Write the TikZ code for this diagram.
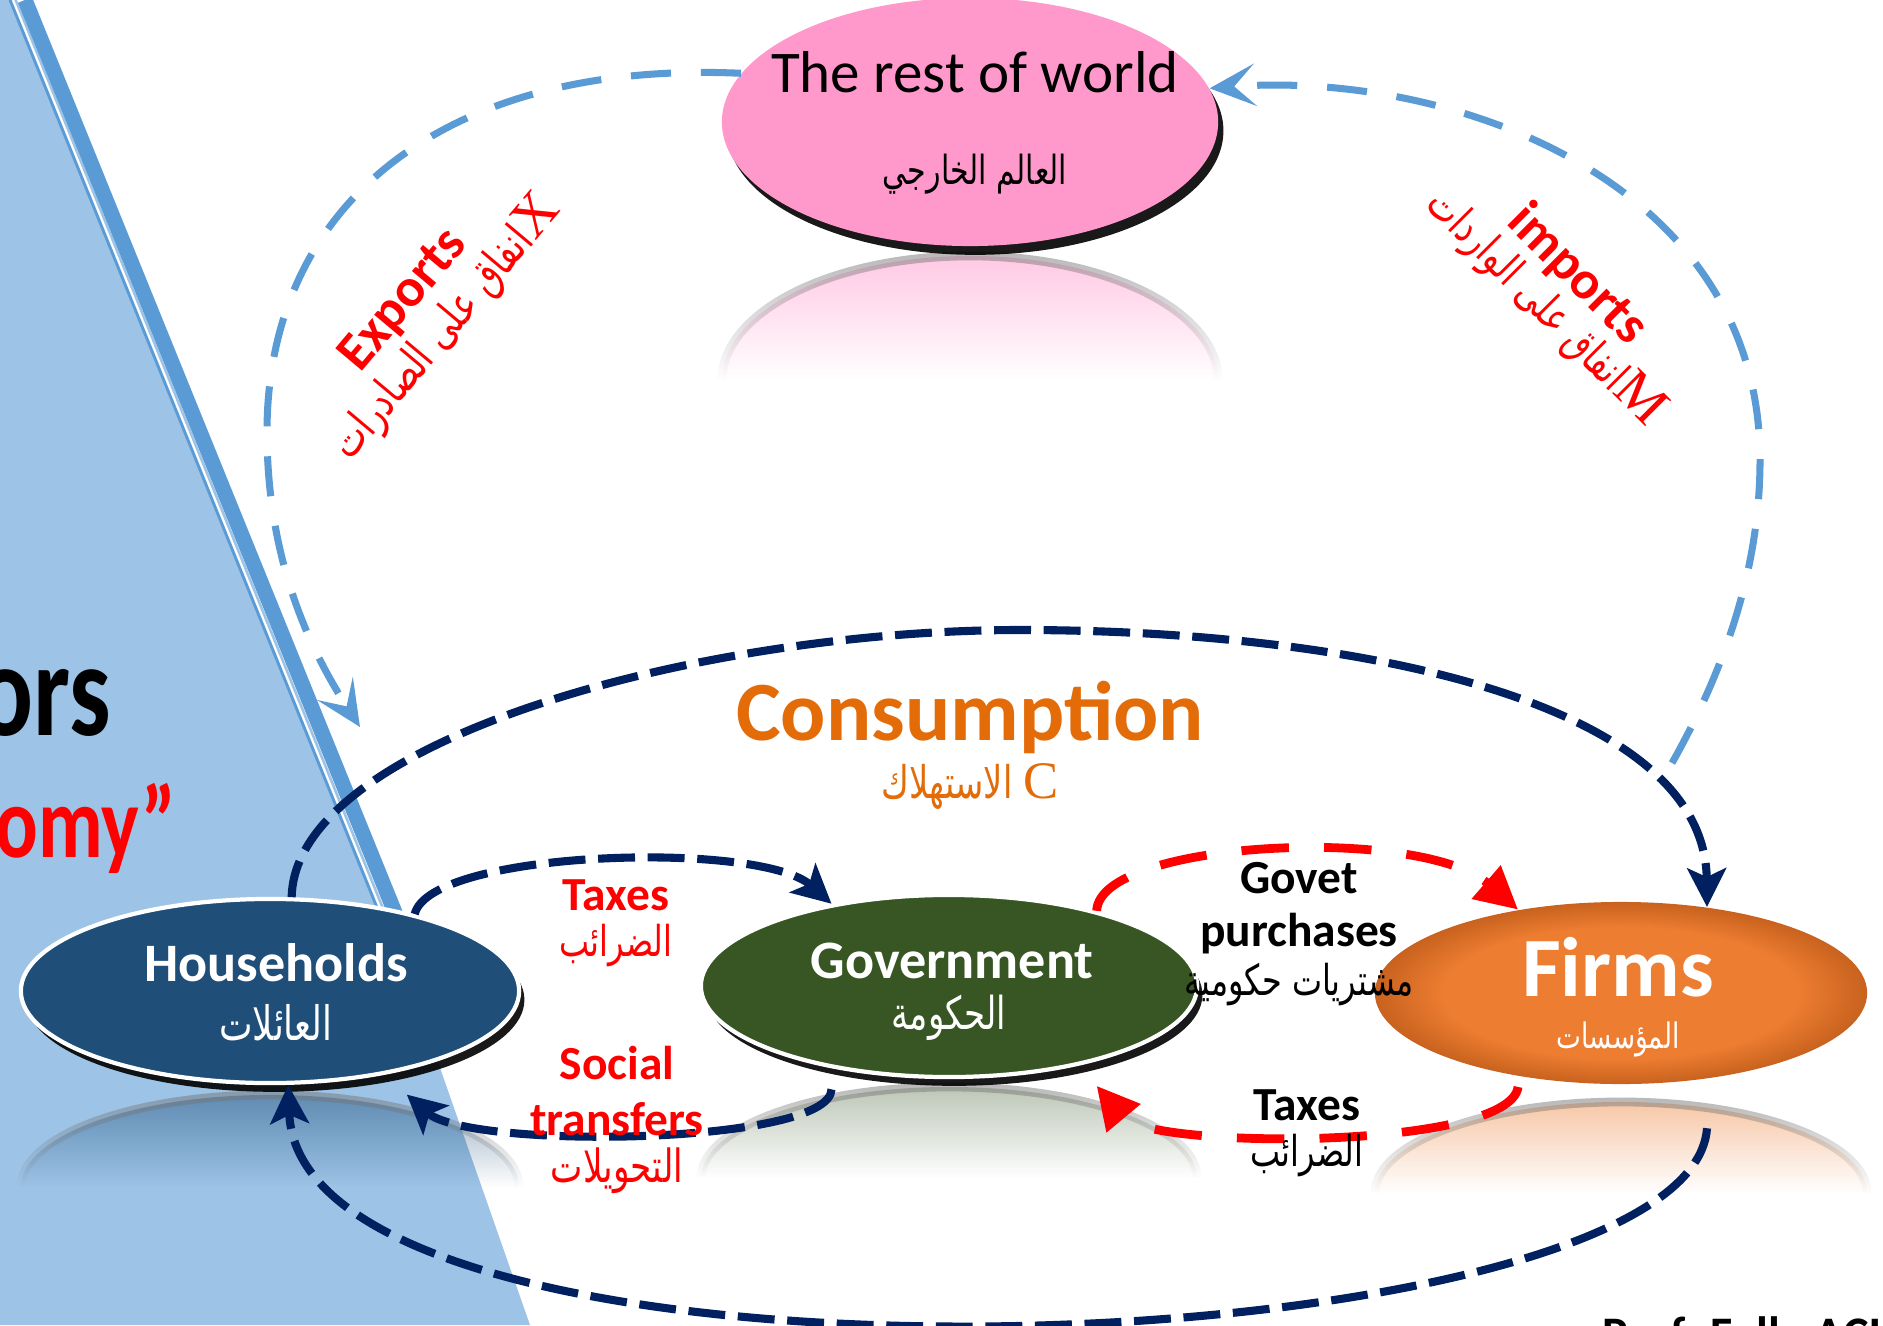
\documentclass[tikz,border=0pt]{standalone}
\usepackage{fontspec}
\setmainfont{Carlito}
\newfontfamily\arabicfont[Script=Arabic,FakeStretch=0.75]{DejaVu Sans}
\newfontfamily\latinserif{Liberation Serif}
\newfontfamily\titlefont[FakeStretch=0.78]{Carlito}
\TeXXeTstate=1
\usetikzlibrary{arrows.meta,shadows,fadings,shapes.geometric}

\definecolor{slideblue}{HTML}{9DC3E6}
\definecolor{lineblue}{HTML}{5B9BD5}
\definecolor{navy}{HTML}{002060}
\definecolor{hhblue}{HTML}{1F4E79}
\definecolor{govgreen}{HTML}{375623}
\definecolor{firmorange}{HTML}{ED7D31}
\definecolor{firmdark}{HTML}{C8621E}
\definecolor{worldpink}{HTML}{FF99CC}
\definecolor{consorange}{HTML}{E36C09}

\pgfdeclareradialshading{firmglow}{\pgfpointorigin}{color(0bp)=(firmorange); color(18bp)=(firmorange); color(25bp)=(firmdark); color(50bp)=(firmdark)}
\tikzfading[name=mirrorfade, top color=transparent!0, bottom color=transparent!100, middle color=transparent!100]

% reflection under a sector: cx, ytop, rx, ry, colour, opacity
\newcommand{\mirror}[6]{%
  \begin{scope}
    \clip (#1-#3-20,#2-8) rectangle (#1+#3+20,#2+#4+10);
    \filldraw[fill=#5, draw=black!55, line width=2.5pt, fill opacity=#6, draw opacity=0.5, path fading=mirrorfade]
      (#1,#2+#4) ellipse [x radius=#3, y radius=#4];
  \end{scope}}

\tikzset{
  sector/.style={ellipse, inner sep=0pt, drop shadow={shadow xshift=1.5pt, shadow yshift=-2.5pt, opacity=0.9, fill=black}},
  navyflow/.style={navy, line width=2.3pt, dash pattern=on 10.5pt off 3.6pt, -{Stealth[length=11pt,width=11pt,inset=2.5pt]}},
  redflow/.style={red, line width=2.5pt, dash pattern=on 13.5pt off 10pt, -{Triangle[length=12pt,width=12pt]}},
  blueflow/.style={lineblue, line width=2pt, dash pattern=on 11.4pt off 8.5pt, -{Stealth[length=13pt,width=12pt,inset=6pt]}},
  lbl/.style={inner sep=0pt},
  entxt/.style={lbl, font=\bfseries\fontsize{13.5}{16}\selectfont},
  artxt/.style={lbl, font=\arabicfont\fontsize{12.1}{15}\selectfont},
}

\begin{document}
\begin{tikzpicture}[x=0.01cm, y=-0.01cm]
  \useasboundingbox (0,0) rectangle (1883,1325);
  % slide background
  \fill[white] (0,0) rectangle (1883,1325);
  \fill[slideblue] (0,0) -- (17,0) -- (383,905) -- (530,1325) -- (0,1325) -- cycle;
  \draw[lineblue, line width=0.8pt] (10,0) -- (382,920);
  \draw[white, line width=0.6pt] (13,0) -- (385,920);
  \draw[lineblue, line width=4.3pt] (25,0) -- (400,925);

  % reflections
  \mirror{970}{256}{248}{124}{worldpink}{0.55}
  \mirror{270}{1095}{249}{92}{hhblue}{0.5}
  \mirror{949}{1087}{248}{91}{govgreen}{0.35}
  \mirror{1621}{1102}{246}{91}{firmorange}{0.45}

  % sectors
  \node[sector, fill=worldpink, minimum width=4.96cm, minimum height=2.48cm] (world) at (970,122) {};
  \node[sector, fill=hhblue, draw=white, line width=1.2pt, minimum width=4.98cm, minimum height=1.84cm] (hh) at (270,991) {};
  \node[sector, fill=govgreen, draw=white, line width=1.2pt, minimum width=4.96cm, minimum height=1.82cm] (gov) at (949,986) {};
  \node[ellipse, inner sep=0pt, shade, shading=firmglow, minimum width=4.92cm, minimum height=1.82cm] (fi) at (1621,993) {};

  \coordinate (xin) at (360,727);
  \coordinate (mout) at (1672,763);

  % flows
  \draw[navyflow] (hh.77) .. controls (295,740) and (700,630) .. (1020,630) .. controls (1350,630) and (1705,700) .. (fi.45);
  \draw[navyflow] (hh.28) .. controls (430,850) and (760,840) .. (gov.145);
  \draw[navyflow] ([yshift=-6pt]gov.215) .. controls (830,1145) and (470,1150) .. ([yshift=-7pt]hh.330);
  \draw[navyflow] ([yshift=-14pt]fi.315) .. controls (1690,1370) and (300,1420) .. (hh.281);
  \draw[redflow] (gov.27) .. controls (1100,840) and (1420,825) .. (fi.141);
  \draw[redflow] ([yshift=-3pt]fi.219) .. controls (1510,1150) and (1150,1150) .. ([yshift=-7pt]gov.333);
  \draw[blueflow] (world.168) .. controls (450,60) and (267,200) .. (267,432) .. controls (267,560) and (310,650) .. (xin);
  \draw[blueflow] (mout) .. controls (1730,660) and (1760,560) .. (1760,460) .. controls (1760,180) and (1450,70) .. (world.8);

  % sector labels
  \node[lbl, font=\fontsize{16.8}{20}\selectfont] (worlden) at (975,72) {The rest of world};
  \node[lbl, font=\arabicfont\fontsize{11.4}{14}\selectfont] (worldar) at (975,174) {\beginR العالم الخارجي\endR};
  \node[lbl, text=white, font=\bfseries\fontsize{15.4}{18}\selectfont] (hhen) at (276,963) {Households};
  \node[lbl, text=white, font=\arabicfont\fontsize{13.5}{16}\selectfont] (hhar) at (276,1023) {\beginR العائلات\endR};
  \node[lbl, text=white, font=\bfseries\fontsize{15.4}{18}\selectfont] (goven) at (952,961) {Government};
  \node[lbl, text=white, font=\arabicfont\fontsize{12.9}{16}\selectfont] (govar) at (949,1018) {\beginR الحكومة\endR};
  \node[lbl, text=white, font=\bfseries\fontsize{24}{28}\selectfont] (fien) at (1618,967) {Firms};
  \node[lbl, text=white, font=\arabicfont\fontsize{10}{13}\selectfont] (fiar) at (1618,1039) {\beginR المؤسسات\endR};

  % flow labels
  \node[lbl, text=consorange, font=\bfseries\fontsize{24}{28}\selectfont] (consen) at (970,717) {Consumption};
  \node[lbl, text=consorange, font=\arabicfont\fontsize{12.8}{16}\selectfont] (consar) at (970,787) {\beginR{\latinserif\fontsize{15}{18}\selectfont C} الاستهلاك\endR};
  \node[entxt, text=red] (taxen) at (616,895) {Taxes};
  \node[artxt, text=red] (taxar) at (616,946) {\beginR الضرائب\endR};
  \node[entxt, text=red] (socen) at (617,1063) {Social};
  \node[entxt, text=red] (trfen) at (617,1119) {transfers};
  \node[artxt, text=red, font=\arabicfont\fontsize{13}{16}\selectfont] (trfar) at (617,1171) {\beginR التحويلات\endR};
  \node[entxt] (goven2) at (1299,878) {Govet};
  \node[entxt] (puren) at (1299,934) {purchases};
  \node[artxt] (purar) at (1299,985) {\beginR مشتريات حكومية\endR};
  \node[entxt] (ftaxen) at (1307,1105) {Taxes};
  \node[artxt] (ftaxar) at (1307,1156) {\beginR الضرائب\endR};
  \node[lbl, rotate=50, text=red, font=\bfseries\fontsize{15.3}{18}\selectfont] (expen) at (404,301) {Exports};
  \node[lbl, rotate=50, text=red, font=\arabicfont\fontsize{12.9}{16}\selectfont] (expar) at (446,328) {\beginR{\latinserif\fontsize{16}{18}\selectfont X}انفاق على الصادرات\endR};
  \node[lbl, rotate=-45, text=red, font=\bfseries\fontsize{15.3}{18}\selectfont] (impen) at (1577,275) {imports};
  \node[lbl, rotate=-45, text=red, font=\arabicfont\fontsize{12.4}{16}\selectfont] (impar) at (1545,308) {\beginR{\latinserif\fontsize{16}{18}\selectfont M}انفاق على الواردات\endR};

  % slide title and footer
  \node[anchor=base east, inner sep=0pt, font=\titlefont\bfseries\fontsize{38}{40}\selectfont] (titleA) at (112,735) {ors};
  \node[anchor=base east, inner sep=0pt, text=red, font=\titlefont\bfseries\fontsize{29}{32}\selectfont] (titleB) at (177,857) {omy”};
  \node[anchor=base west, inner sep=0pt, font=\bfseries\fontsize{13.7}{16}\selectfont] (prof) at (1602,1350) {Prof. Fella ACH};
\end{tikzpicture}
\end{document}
